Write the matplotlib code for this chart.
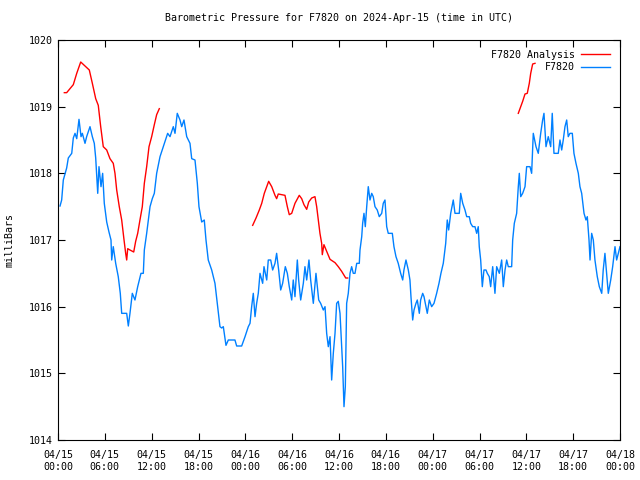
import matplotlib
matplotlib.use("Agg")
import matplotlib.pyplot as plt
import pandas as pd

# ---- data: hours after 2024-04-15 00:00 UTC, pressure in mb ----
obs_hours = [0.26, 0.47, 0.68, 1.11, 1.32, 1.76, 1.96, 2.18, 2.40, 2.69, 2.95, 3.12, 3.46, 3.67,
             4.10, 4.40, 4.65, 4.83, 5.09, 5.25, 5.51, 5.72, 5.93, 6.24, 6.53, 6.79, 6.88, 7.08,
             7.39, 7.72, 7.98, 8.16, 8.80, 9.01, 9.22, 9.52, 9.86, 10.21, 10.63, 10.93, 11.06,
             11.36, 11.79, 12.08, 12.34, 12.64, 13.07, 13.49, 14.05, 14.35, 14.77, 14.99, 15.28,
             15.63, 15.85, 16.14, 16.49, 16.91, 17.13, 17.55, 17.85, 18.06, 18.41, 18.74, 18.96,
             19.25, 19.69, 20.11, 20.41, 20.75, 20.97, 21.18, 21.52, 21.82, 22.67, 22.89, 23.53,
             23.96, 24.38, 24.60, 24.81, 25.02, 25.24, 25.45, 25.66, 25.88, 26.22, 26.39, 26.74,
             26.94, 27.25, 27.50, 27.80, 28.01, 28.27, 28.53, 28.78, 29.12, 29.38, 29.63, 29.94,
             30.14, 30.36, 30.66, 30.83, 31.09, 31.43, 31.64, 31.86, 32.15, 32.37, 32.71, 33.05,
             33.40, 33.65, 33.99, 34.21, 34.42, 34.63, 34.85, 35.06, 35.27, 35.49, 35.70, 35.91,
             36.13, 36.47, 36.64, 36.81, 36.98, 37.19, 37.41, 37.62, 37.83, 38.05, 38.27, 38.60,
             38.69, 38.91, 39.03, 39.20, 39.37, 39.55, 39.75, 39.97, 40.19, 40.39, 40.61, 40.90,
             41.16, 41.47, 41.67, 41.89, 42.11, 42.31, 42.83, 43.04, 43.30, 43.59, 43.90, 44.16,
             44.32, 44.58, 44.88, 45.09, 45.22, 45.44, 45.61, 45.86, 46.03, 46.29, 46.46, 46.72,
             46.89, 47.14, 47.31, 47.57, 47.87, 48.17, 48.51, 48.81, 49.06, 49.36, 49.67, 49.87,
             50.05, 50.31, 50.64, 50.86, 51.41, 51.59, 51.85, 52.14, 52.36, 52.69, 52.87, 53.13,
             53.42, 53.64, 53.84, 53.97, 54.15, 54.36, 54.57, 54.83, 55.00, 55.25, 55.43, 55.69,
             55.98, 56.20, 56.54, 56.84, 57.05, 57.27, 57.48, 57.69, 58.12, 58.25, 58.46, 58.76,
             58.97, 59.10, 59.28, 59.53, 59.83, 60.04, 60.47, 60.68, 60.89, 61.24, 61.53, 61.84,
             62.09, 62.26, 62.52, 62.81, 63.12, 63.32, 63.54, 64.09, 64.31, 64.53, 64.73, 64.95,
             65.17, 65.37, 65.59, 65.89, 66.10, 66.36, 66.66, 66.87, 67.09, 67.39, 67.64, 67.81,
             68.03, 68.16, 68.37, 68.58, 68.79, 69.09, 69.35, 69.66, 69.85, 70.07, 70.29, 70.50,
             70.81, 71.06, 71.36, 71.57, 71.78, 72.00]
obs_mb = [1017.51, 1017.60, 1017.90, 1018.08, 1018.23, 1018.30, 1018.53, 1018.60, 1018.52, 1018.81,
          1018.55, 1018.60, 1018.45, 1018.55, 1018.70, 1018.55, 1018.45, 1018.23, 1017.70, 1018.10,
          1017.80, 1018.00, 1017.55, 1017.27, 1017.12, 1017.00, 1016.70, 1016.90, 1016.65, 1016.45,
          1016.20, 1015.90, 1015.90, 1015.71, 1015.90, 1016.20, 1016.10, 1016.30, 1016.50, 1016.50,
          1016.85, 1017.10, 1017.50, 1017.62, 1017.70, 1018.00, 1018.25, 1018.40, 1018.60, 1018.55,
          1018.70, 1018.60, 1018.90, 1018.80, 1018.70, 1018.80, 1018.55, 1018.45, 1018.22, 1018.20,
          1017.85, 1017.50, 1017.27, 1017.30, 1017.00, 1016.70, 1016.55, 1016.35, 1016.05, 1015.70,
          1015.68, 1015.70, 1015.42, 1015.50, 1015.50, 1015.41, 1015.41, 1015.55, 1015.70, 1015.75,
          1016.00, 1016.20, 1015.85, 1016.05, 1016.20, 1016.50, 1016.35, 1016.60, 1016.40, 1016.70,
          1016.70, 1016.55, 1016.65, 1016.80, 1016.55, 1016.25, 1016.35, 1016.60, 1016.50, 1016.30,
          1016.10, 1016.40, 1016.15, 1016.70, 1016.40, 1016.10, 1016.35, 1016.60, 1016.40, 1016.70,
          1016.40, 1016.05, 1016.50, 1016.10, 1016.05, 1015.95, 1016.00, 1015.60, 1015.40, 1015.55,
          1014.90, 1015.30, 1015.60, 1016.05, 1016.08, 1015.90, 1015.10, 1014.50, 1014.80, 1016.05,
          1016.20, 1016.50, 1016.60, 1016.50, 1016.50, 1016.65, 1016.65, 1016.85, 1017.05, 1017.25,
          1017.40, 1017.20, 1017.50, 1017.80, 1017.60, 1017.70, 1017.65, 1017.50, 1017.45, 1017.35,
          1017.40, 1017.55, 1017.60, 1017.20, 1017.10, 1017.10, 1016.90, 1016.75, 1016.65, 1016.50,
          1016.40, 1016.55, 1016.70, 1016.55, 1016.40, 1016.15, 1015.80, 1015.95, 1016.05, 1016.10,
          1015.90, 1016.10, 1016.20, 1016.15, 1016.00, 1015.90, 1016.10, 1016.00, 1016.05, 1016.20,
          1016.35, 1016.50, 1016.65, 1016.95, 1017.30, 1017.15, 1017.40, 1017.60, 1017.40, 1017.40,
          1017.70, 1017.55, 1017.45, 1017.35, 1017.35, 1017.25, 1017.20, 1017.20, 1017.10, 1017.20,
          1016.90, 1016.70, 1016.30, 1016.55, 1016.55, 1016.50, 1016.45, 1016.30, 1016.60, 1016.20,
          1016.60, 1016.50, 1016.70, 1016.30, 1016.55, 1016.70, 1016.60, 1016.60, 1017.00, 1017.25,
          1017.40, 1017.80, 1018.00, 1017.65, 1017.70, 1017.80, 1018.10, 1018.10, 1018.00, 1018.60,
          1018.40, 1018.30, 1018.60, 1018.80, 1018.90, 1018.40, 1018.55, 1018.40, 1018.90, 1018.30,
          1018.30, 1018.50, 1018.35, 1018.50, 1018.70, 1018.80, 1018.55, 1018.60, 1018.60, 1018.30,
          1018.15, 1018.00, 1017.80, 1017.70, 1017.40, 1017.30, 1017.35, 1017.00, 1016.70, 1017.10,
          1017.00, 1016.70, 1016.45, 1016.30, 1016.20, 1016.55, 1016.80, 1016.50, 1016.20, 1016.40,
          1016.60, 1016.90, 1016.70, 1016.80, 1016.90]

ana1_hours = [0.81, 1.11, 1.96, 2.40, 2.91, 3.46, 4.01, 4.40, 4.83, 5.16, 5.47, 5.80, 6.24, 6.66,
              7.08, 7.30, 7.52, 7.85, 8.16, 8.46, 8.67, 8.80, 8.93, 9.22, 9.70, 9.95, 10.21,
              10.50, 10.80, 11.06, 11.36, 11.66, 12.00, 12.34, 12.64, 12.98]
ana1_mb = [1019.21, 1019.21, 1019.33, 1019.50, 1019.67, 1019.61, 1019.55, 1019.35, 1019.12, 1019.02,
           1018.70, 1018.40, 1018.35, 1018.22, 1018.15, 1018.00, 1017.75, 1017.50, 1017.30, 1017.00,
           1016.80, 1016.70, 1016.87, 1016.85, 1016.82, 1016.98, 1017.10, 1017.30, 1017.50, 1017.85,
           1018.10, 1018.40, 1018.55, 1018.73, 1018.88, 1018.97]
ana2_hours = [24.94, 25.37, 25.79, 26.10, 26.43, 26.99, 27.38, 27.80, 28.01, 28.22, 29.08, 29.38,
              29.63, 29.94, 30.36, 30.91, 31.22, 31.51, 31.86, 32.12, 32.50, 32.92, 33.14, 33.35,
              33.56, 33.78, 33.86, 34.07, 34.42, 34.85, 35.49, 35.91, 36.34, 36.86, 37.11]
ana2_mb = [1017.22, 1017.33, 1017.45, 1017.55, 1017.70, 1017.88, 1017.80, 1017.67, 1017.62, 1017.69,
           1017.67, 1017.50, 1017.38, 1017.40, 1017.55, 1017.67, 1017.62, 1017.53, 1017.46, 1017.57,
           1017.63, 1017.65, 1017.50, 1017.30, 1017.10, 1016.95, 1016.78, 1016.93, 1016.83, 1016.71,
           1016.66, 1016.60, 1016.53, 1016.43, 1016.43]
ana3_hours = [58.97, 59.28, 59.53, 59.83, 60.12, 60.38, 60.56, 60.81, 61.11]
ana3_mb = [1018.90, 1019.00, 1019.08, 1019.19, 1019.20, 1019.35, 1019.50, 1019.64, 1019.65]

x_tick_labels = ["04/15\n00:00", "04/15\n06:00", "04/15\n12:00", "04/15\n18:00",
                 "04/16\n00:00", "04/16\n06:00", "04/16\n12:00", "04/16\n18:00",
                 "04/17\n00:00", "04/17\n06:00", "04/17\n12:00", "04/17\n18:00",
                 "04/18\n00:00"]
y_ticks = [1014, 1015, 1016, 1017, 1018, 1019, 1020]

base = pd.Timestamp("2024-04-15 00:00")
def to_t(h):
    return base + pd.to_timedelta(pd.Series(h), unit="h")

plt.rcParams['font.family'] = ['DejaVu Sans Mono']
fig = plt.figure(figsize=(6.4, 4.8), dpi=100)
ax = fig.add_axes([58/640, 40/480, 562/640, 400/480])

red = '#ff0000'
blue = '#0080ff'
lw = 1.0
ax.plot(to_t(ana1_hours), ana1_mb, color=red, lw=lw, label='F7820 Analysis')
ax.plot(to_t(ana2_hours), ana2_mb, color=red, lw=lw)
ax.plot(to_t(ana3_hours), ana3_mb, color=red, lw=lw)
ax.plot(to_t(obs_hours), obs_mb, color=blue, lw=lw, label='F7820')

ax.set_xlim(base, base + pd.Timedelta(hours=72))
ax.set_ylim(1014, 1020)
tick_times = [base + pd.Timedelta(hours=6 * i) for i in range(len(x_tick_labels))]
ax.set_xticks(tick_times)
ax.set_xticklabels(x_tick_labels, fontsize=7.2, linespacing=1.3)
ax.set_yticks(y_ticks)
ax.set_yticklabels([str(v) for v in y_ticks], fontsize=7.2)
ax.tick_params(direction='in', length=5, width=0.8, top=True, right=True, pad=4)
ax.tick_params(axis='x', pad=7)
for s in ax.spines.values():
    s.set_linewidth(0.8)

ax.set_title('Barometric Pressure for F7820 on 2024-Apr-15 (time in UTC)', fontsize=7.2, pad=14)
ax.set_ylabel('milliBars', fontsize=7.2, labelpad=10)

leg = ax.legend(loc='upper right', frameon=False, markerfirst=False, fontsize=7.2,
                handlelength=2.9, handletextpad=0.6, borderaxespad=0.6, labelspacing=0.25)

fig.savefig('out.png', dpi=100)
